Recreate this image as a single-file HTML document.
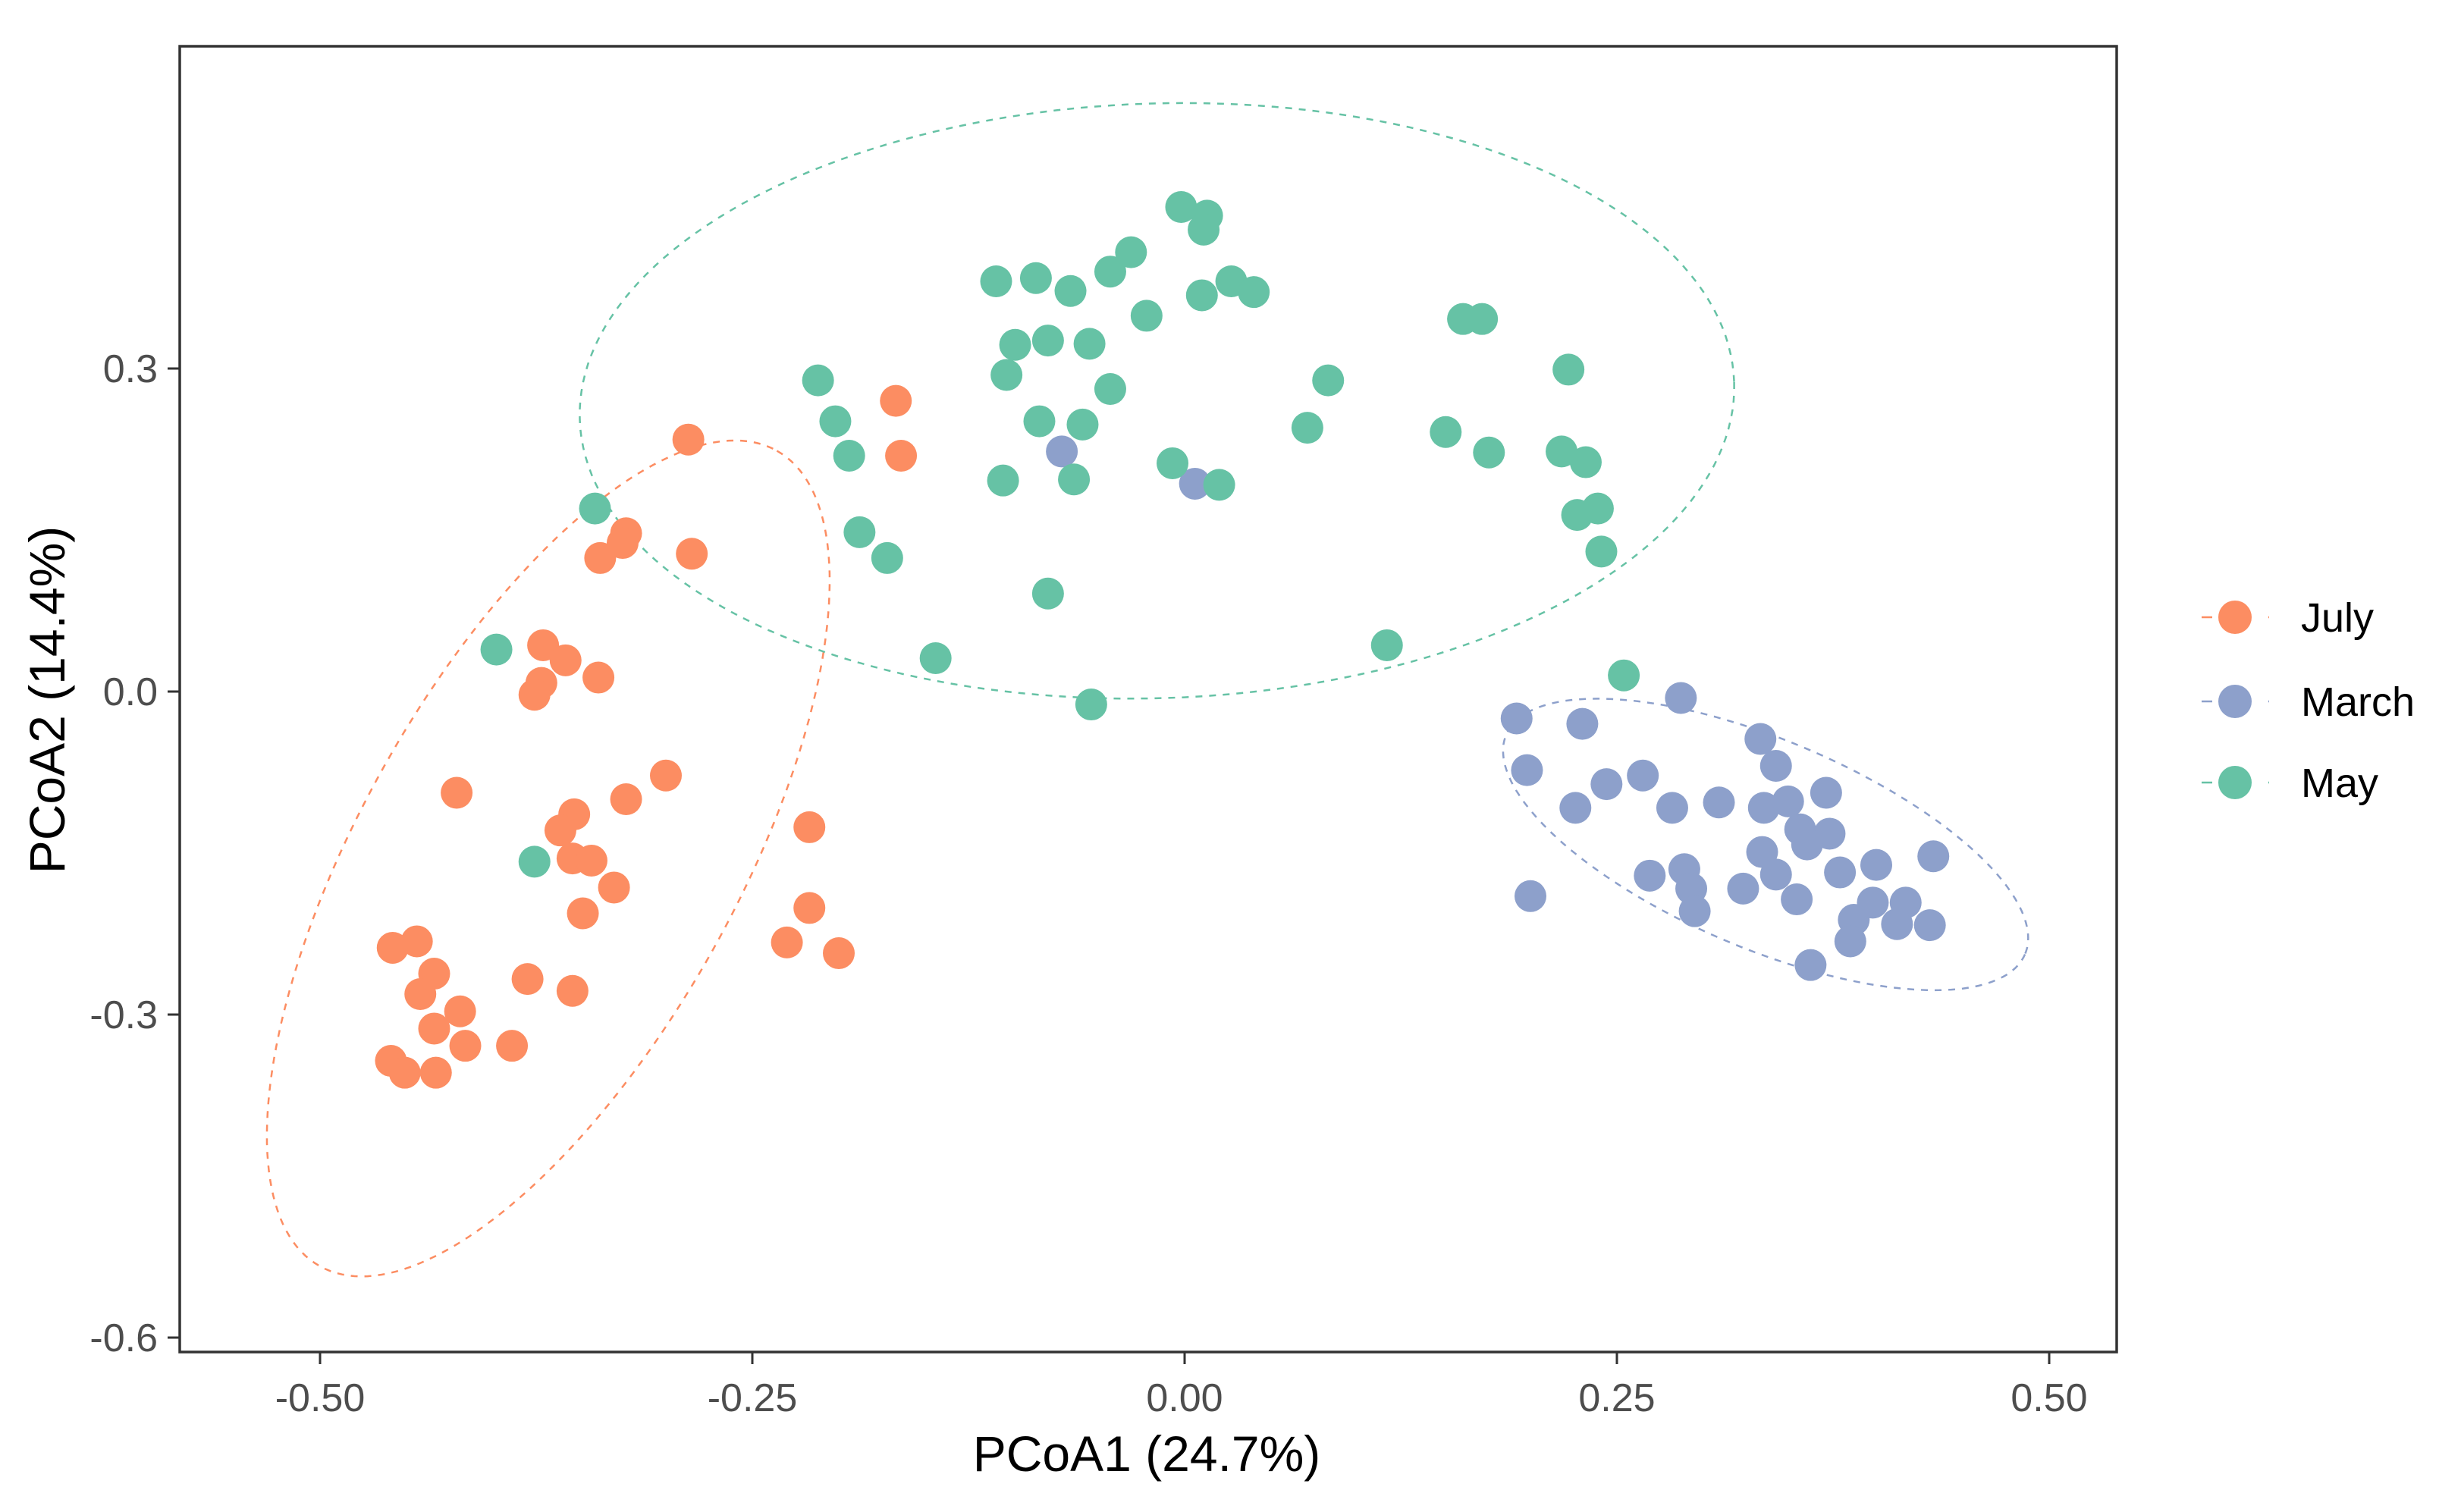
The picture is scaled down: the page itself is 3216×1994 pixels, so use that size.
<!DOCTYPE html>
<html><head><meta charset="utf-8"><style>
html,body{margin:0;padding:0;background:#fff;}
svg{display:block;font-family:"Liberation Sans",Arial,sans-serif;}
</style></head><body>
<svg id="chart" width="3216" height="1994" viewBox="0 0 3216 1994" xmlns="http://www.w3.org/2000/svg">
<rect x="0" y="0" width="3216" height="1994" fill="#fff"/>
<g id="ellipses"></g>
<g id="points"></g>
<rect x="237" y="61" width="2554" height="1722" fill="none" stroke="#333" stroke-width="3.5"/>
<g id="axes"></g>
<text x="1512" y="1940" font-size="66" text-anchor="middle" fill="#000">PCoA1 (24.7%)</text>
<text x="0" y="0" font-size="66" text-anchor="middle" fill="#000" transform="translate(85,923) rotate(-90)">PCoA2 (14.4%)</text>
<g id="legend"></g>
</svg>
<script>
const groups = ["July","March","May"];
const colors = ["#FC8D62","#8DA0CB","#66C2A5"];
const xTicks = [-0.5,-0.25,0,0.25,0.5];
const xTickLabels = ["-0.50","-0.25","0.00","0.25","0.50"];
const yTicks = [0.3,0,-0.3,-0.6];
const yTickLabels = ["0.3","0.0","-0.3","-0.6"];

const julyX = [-0.371,-0.358,-0.372,-0.376,-0.339,-0.421,-0.300,-0.323,-0.353,-0.361,-0.354,-0.343,-0.330,-0.348,-0.217,-0.217,-0.230,-0.200,-0.458,-0.444,-0.434,-0.442,-0.419,-0.434,-0.416,-0.380,-0.354,-0.389,-0.459,-0.451,-0.433,-0.287,-0.285,-0.167,-0.164,-0.338,-0.323,-0.325];
const julyY = [0.043,0.029,0.008,-0.003,0.013,-0.094,-0.078,-0.100,-0.114,-0.129,-0.155,-0.157,-0.182,-0.206,-0.126,-0.201,-0.233,-0.243,-0.238,-0.232,-0.262,-0.281,-0.297,-0.313,-0.329,-0.267,-0.278,-0.329,-0.343,-0.354,-0.354,0.234,0.128,0.270,0.219,0.124,0.147,0.138];

const marchX = [-0.071,0.006,0.287,0.192,0.230,0.198,0.244,0.265,0.226,0.282,0.309,0.333,0.342,0.335,0.349,0.371,0.356,0.373,0.334,0.360,0.379,0.400,0.433,0.269,0.289,0.293,0.295,0.323,0.354,0.342,0.200,0.387,0.398,0.417,0.412,0.431,0.385,0.362];
const marchY = [0.223,0.193,-0.006,-0.025,-0.030,-0.073,-0.086,-0.078,-0.108,-0.108,-0.103,-0.044,-0.069,-0.108,-0.102,-0.094,-0.128,-0.132,-0.149,-0.142,-0.168,-0.161,-0.153,-0.171,-0.165,-0.183,-0.204,-0.183,-0.193,-0.170,-0.190,-0.212,-0.196,-0.196,-0.216,-0.217,-0.232,-0.254];

const mayX = [-0.341,-0.398,-0.376,-0.212,-0.202,-0.194,-0.188,-0.172,-0.144,-0.109,-0.086,-0.066,-0.043,-0.031,-0.022,-0.098,-0.079,-0.055,-0.103,-0.084,-0.059,-0.043,-0.105,-0.064,-0.079,-0.054,-0.002,0.013,0.011,0.010,0.027,0.040,-0.007,0.020,0.071,0.083,0.117,0.151,0.161,0.172,0.176,0.222,0.218,0.232,0.227,0.239,0.241,0.254];
const mayY = [0.170,0.039,-0.158,0.289,0.251,0.219,0.148,0.124,0.031,0.381,0.384,0.372,0.390,0.408,0.349,0.322,0.326,0.323,0.294,0.251,0.248,0.281,0.196,0.197,0.091,-0.012,0.450,0.442,0.429,0.368,0.381,0.371,0.212,0.192,0.245,0.289,0.043,0.241,0.346,0.346,0.222,0.299,0.223,0.213,0.164,0.170,0.130,0.015];

const ellCenterX = [-0.368,0.336,-0.016];
const ellCenterY = [-0.155,-0.142,0.270];
const ellAx = [0.1322,0.150,0.3338];
const ellAy = [0.3786,-0.102,0.0173];
const ellBx = [0.0949,-0.0236,0.0054];
const ellBy = [-0.0857,-0.0890,-0.276];

const NS="http://www.w3.org/2000/svg";
function sx(v){return 1562 + v*2280;}
function sy(v){return 912 - v*1420;}
function mk(tag,attrs,parent){const e=document.createElementNS(NS,tag);for(const k in attrs)e.setAttribute(k,attrs[k]);parent.appendChild(e);return e;}

const eg=document.getElementById('ellipses');
for(let g=0;g<3;g++){
  let d="";
  for(let i=0;i<=200;i++){
    const t=i/200*2*Math.PI;
    const x=ellCenterX[g]+ellAx[g]*Math.cos(t)+ellBx[g]*Math.sin(t);
    const y=ellCenterY[g]+ellAy[g]*Math.cos(t)+ellBy[g]*Math.sin(t);
    d+=(i?"L":"M")+sx(x).toFixed(1)+","+sy(y).toFixed(1);
  }
  const p=mk('path',{d:d,fill:"none",stroke:colors[g],"stroke-width":2.5,"stroke-dasharray":"9 9"},eg);
  
  
}

const pg=document.getElementById('points');
const sets=[[julyX,julyY],[marchX,marchY],[mayX,mayY]];
for(let g=0;g<3;g++){
  const xs=sets[g][0], ys=sets[g][1];
  for(let i=0;i<xs.length;i++){
    const c=mk('circle',{cx:sx(xs[i]),cy:sy(ys[i]),r:21,fill:colors[g]},pg);
    
    
  }
}

const ag=document.getElementById('axes');
for(let i=0;i<xTicks.length;i++){
  const x=sx(xTicks[i]);
  const t=mk('line',{x1:x,y1:1783,x2:x,y2:1799,stroke:"#333","stroke-width":3},ag);
  
  
  const l=mk('text',{x:x,y:1861,"font-size":52,"text-anchor":"middle",fill:"#4d4d4d"},ag);
  l.textContent=xTickLabels[i];
  
  
}
for(let i=0;i<yTicks.length;i++){
  const y=sy(yTicks[i]);
  const t=mk('line',{x1:221,y1:y,x2:237,y2:y,stroke:"#333","stroke-width":3},ag);
  
  
  const l=mk('text',{x:208,y:y+18,"font-size":52,"text-anchor":"end",fill:"#4d4d4d"},ag);
  l.textContent=yTickLabels[i];
  
  
}

const lg=document.getElementById('legend');
const legY=[814,925,1032];
for(let g=0;g<3;g++){
  const e=mk('g',{},lg);
  
  
  mk('line',{x1:2903,y1:legY[g],x2:2992,y2:legY[g],stroke:colors[g],"stroke-width":2.5,"stroke-dasharray":"14 30"},e);
  mk('circle',{cx:2947,cy:legY[g],r:22,fill:colors[g]},e);
  const t=mk('text',{x:3034,y:legY[g]+19,"font-size":54,fill:"#000"},e);
  t.textContent=groups[g];
}
</script>
</body></html>
